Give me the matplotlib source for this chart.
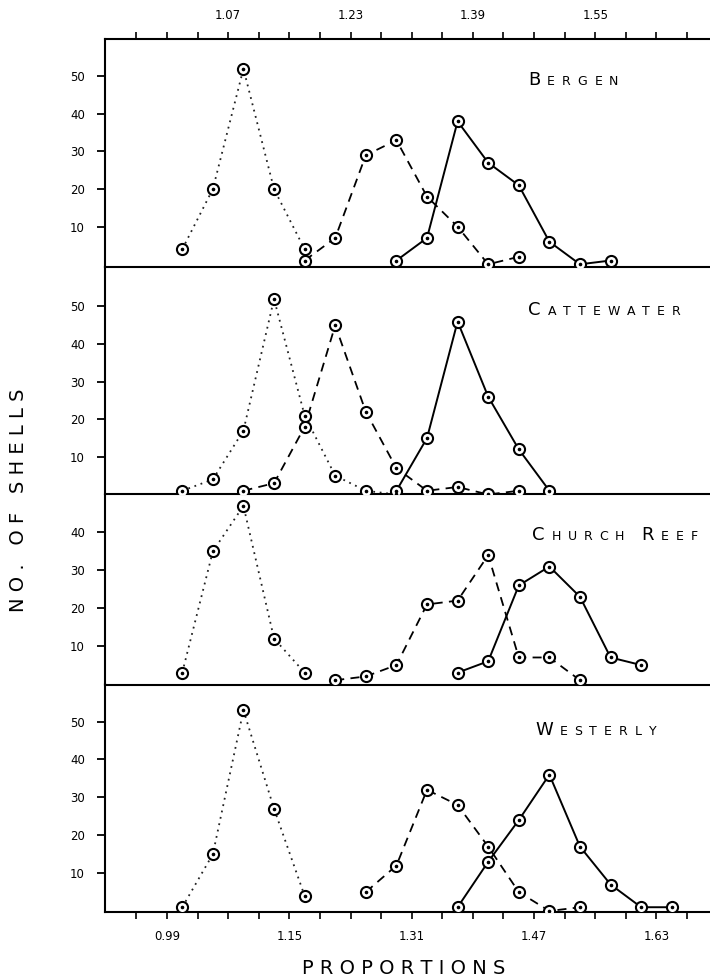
import matplotlib
matplotlib.use('Agg')
import matplotlib.pyplot as plt
import numpy as np
from matplotlib.offsetbox import TextArea, HPacker, AnnotationBbox

plt.rcParams['font.family'] = ['DejaVu Sans']

# ---------------- data ----------------
panels = ["Bergen", "Cattewater", "Church Reef", "Westerly"]

bergen_dot_x = [1.01, 1.05, 1.09, 1.13, 1.17]
bergen_dot_y = [4, 20, 52, 20, 4]
bergen_dash_x = [1.17, 1.21, 1.25, 1.29, 1.33, 1.37, 1.41, 1.45]
bergen_dash_y = [1, 7, 29, 33, 18, 10, 0, 2]
bergen_solid_x = [1.29, 1.33, 1.37, 1.41, 1.45, 1.49, 1.53, 1.57]
bergen_solid_y = [1, 7, 38, 27, 21, 6, 0, 1]

catte_dot_x = [1.01, 1.05, 1.09, 1.13, 1.17, 1.21, 1.25, 1.29]
catte_dot_y = [1, 4, 17, 52, 21, 5, 1, 0]
catte_dash_x = [1.09, 1.13, 1.17, 1.21, 1.25, 1.29, 1.33, 1.37, 1.41, 1.45]
catte_dash_y = [1, 3, 18, 45, 22, 7, 1, 2, 0, 1]
catte_solid_x = [1.29, 1.33, 1.37, 1.41, 1.45, 1.49]
catte_solid_y = [1, 15, 46, 26, 12, 1]

church_dot_x = [1.01, 1.05, 1.09, 1.13, 1.17]
church_dot_y = [3, 35, 47, 12, 3]
church_dash_x = [1.21, 1.25, 1.29, 1.33, 1.37, 1.41, 1.45, 1.49, 1.53]
church_dash_y = [1, 2, 5, 21, 22, 34, 7, 7, 1]
church_solid_x = [1.37, 1.41, 1.45, 1.49, 1.53, 1.57, 1.61]
church_solid_y = [3, 6, 26, 31, 23, 7, 5]

west_dot_x = [1.01, 1.05, 1.09, 1.13, 1.17]
west_dot_y = [1, 15, 53, 27, 4]
west_dash_x = [1.25, 1.29, 1.33, 1.37, 1.41, 1.45, 1.49, 1.53]
west_dash_y = [5, 12, 32, 28, 17, 5, 0, 1]
west_solid_x = [1.37, 1.41, 1.45, 1.49, 1.53, 1.57, 1.61, 1.65]
west_solid_y = [1, 13, 24, 36, 17, 7, 1, 1]

top_tick_labels = ["1.07", "1.23", "1.39", "1.55"]
bottom_tick_labels = ["0.99", "1.15", "1.31", "1.47", "1.63"]
yticks_by_panel = [[10, 20, 30, 40, 50], [10, 20, 30, 40, 50],
                   [10, 20, 30, 40], [10, 20, 30, 40, 50]]

series = [
    (bergen_dot_x, bergen_dot_y, bergen_dash_x, bergen_dash_y, bergen_solid_x, bergen_solid_y),
    (catte_dot_x, catte_dot_y, catte_dash_x, catte_dash_y, catte_solid_x, catte_solid_y),
    (church_dot_x, church_dot_y, church_dash_x, church_dash_y, church_solid_x, church_solid_y),
    (west_dot_x, west_dot_y, west_dash_x, west_dash_y, west_solid_x, west_solid_y),
]

# ---------------- layout ----------------
W, H = 710, 980
fig = plt.figure(figsize=(W / 100, H / 100), dpi=100)

left_px, right_px = 105, 710
panel_px = [(39, 267), (267, 494.5), (494.5, 684.5), (684.5, 912)]
ylims = [(-0.72, 59.9), (0, 60.5), (-0.13, 50.0), (-0.26, 59.8)]
xlim = (0.909, 1.700)

minor_ticks = np.round(np.arange(0.95, 1.68, 0.04), 2)

title_pos = [(528, 80), (528, 310), (532, 535), (535, 730)]


def add_title(text, xy):
    children = []
    words = text.split(" ")
    for wi, w in enumerate(words):
        if wi > 0:
            children.append(TextArea(" ", textprops=dict(fontsize=7)))
        for li, ch in enumerate(w.upper()):
            size = 13 if li == 0 else 9
            children.append(TextArea(ch, textprops=dict(fontsize=size, color="black")))
    box = HPacker(children=children, align="baseline", pad=0, sep=5)
    ab = AnnotationBbox(box, (xy[0], H - xy[1]), xycoords="figure pixels",
                        frameon=False, box_alignment=(0, 0.5), pad=0)
    fig.add_artist(ab)


for i, (top, bot) in enumerate(panel_px):
    ax = fig.add_axes([left_px / W, 1 - bot / H, (right_px - left_px) / W, (bot - top) / H])
    ax.set_xlim(*xlim)
    ax.set_ylim(*ylims[i])
    dx, dy, ax_, ay_, sx, sy = series[i]
    ax.plot(dx, dy, color="#222222", linestyle=(0, (1, 2.6)), lw=1.3, zorder=2)
    ax.plot(ax_, ay_, color="black", linestyle=(0, (5, 3.5)), lw=1.3, zorder=2)
    ax.plot(sx, sy, color="black", linestyle="-", lw=1.4, zorder=2)
    for xs, ys in ((dx, dy), (ax_, ay_), (sx, sy)):
        ax.plot(xs, ys, linestyle="none", marker="o", ms=8, mfc="white",
                mec="black", mew=1.5, zorder=3)
        ax.plot(xs, ys, linestyle="none", marker="o", ms=1.6, color="black", zorder=4)

    ax.set_facecolor("none")
    ax.patch.set_alpha(0)
    ax.spines["right"].set_visible(False)
    ax.spines["top"].set_visible(i == 0)
    for s in ax.spines.values():
        s.set_linewidth(1.5)

    ax.set_yticks(yticks_by_panel[i])
    ax.set_yticklabels([str(v) for v in yticks_by_panel[i]])
    ax.tick_params(axis="y", direction="out", length=6, width=1.3, pad=8.5, labelsize=8.5)

    if i == 0:
        ax.xaxis.tick_top()
        ax.set_xticks(minor_ticks)
        ax.set_xticklabels([f"{v:.2f}" if f"{v:.2f}" in top_tick_labels else "" for v in minor_ticks])
        ax.tick_params(axis="x", direction="out", length=5, width=1.2, pad=7, labelsize=8.5)
    elif i == 3:
        ax.set_xticks(minor_ticks)
        ax.set_xticklabels([f"{v:.2f}" if f"{v:.2f}" in bottom_tick_labels else "" for v in minor_ticks])
        ax.tick_params(axis="x", direction="out", length=5, width=1.2, pad=8, labelsize=8.5)
    else:
        ax.set_xticks([])

    add_title(panels[i], title_pos[i])

fig.text(19 / W, 1 - 500 / H, "N O .   O F   S H E L L S", rotation=90,
         ha="center", va="center", fontsize=14)
fig.text(404 / W, 1 - 968 / H, "P R O P O R T I O N S", ha="center", va="center",
         fontsize=14)

fig.savefig("out.png", dpi=100)
